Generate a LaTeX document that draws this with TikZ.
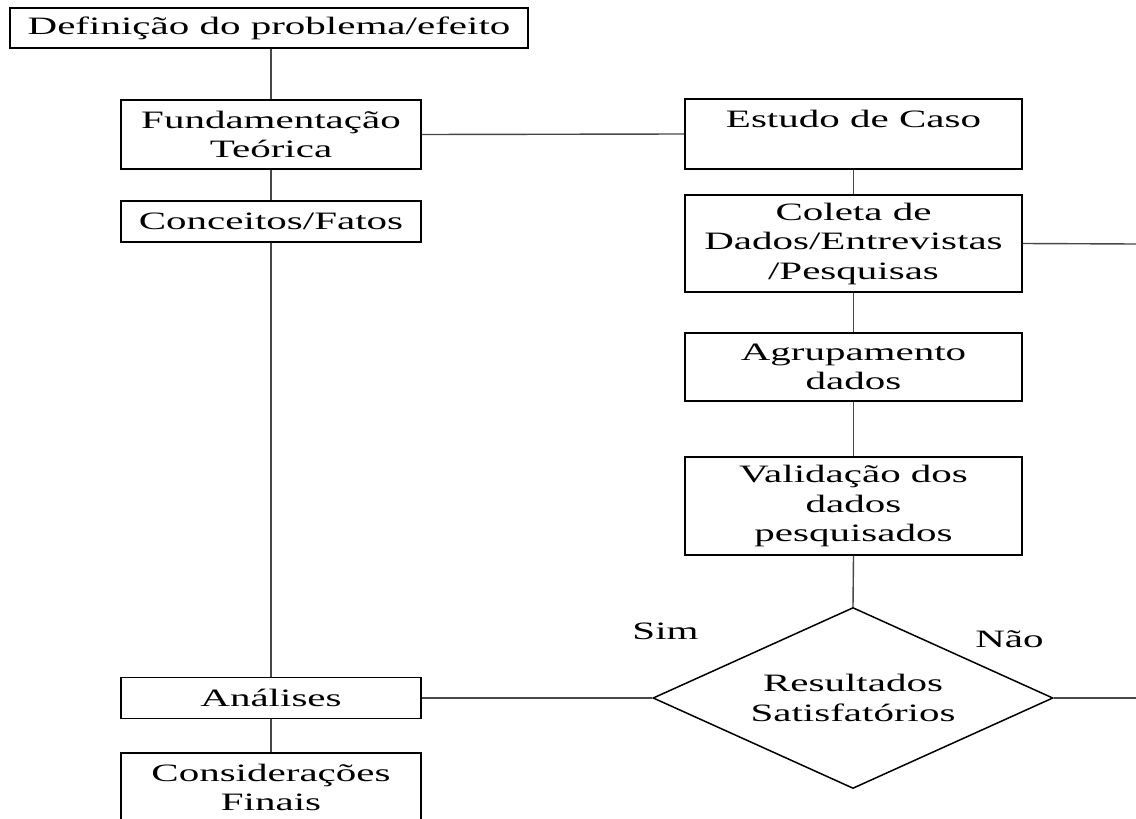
\documentclass[tikz,border=0pt]{standalone}
\usepackage{fontspec}
\setmainfont{Liberation Serif}[FakeStretch=1.64]
\usetikzlibrary{shapes.geometric}
\begin{document}
\begin{tikzpicture}[x=1pt,y=-1pt,
  every node/.style={font=\fontsize{25}{29.5}\selectfont, inner sep=0pt, align=center},
  stepbox/.style={draw=black, line width=1.8pt, fill=white},
  conn/.style={draw=black!72, line width=1.4pt},
  decisionbox/.style={draw=black, line width=1.5pt, diamond, aspect=2.21,
                      minimum width=400pt, minimum height=181pt}]
\path[use as bounding box, clip] (0,0) rectangle (1136,819);
\fill[white] (0,0) rectangle (1136,819);

\coordinate (colR) at (1136,244);
\coordinate (diaR) at (1136,698);

\node[stepbox, minimum width=518pt, minimum height=40pt] (def) at (269,28) {Definição do problema/efeito};
\node[stepbox, minimum width=300pt, minimum height=69pt] (fund) at (271,134.5) {Fundamentação\\Teórica};
\node[stepbox, minimum width=300pt, minimum height=41pt] (conc) at (271,221.5) {Conceitos/Fatos};
\node[stepbox, minimum width=300pt, minimum height=41pt] (anal) at (271,698) {Análises};
\node[stepbox, minimum width=300pt, minimum height=98pt, anchor=north] (cons) at (271,752) {Considerações\\Finais\\~};

\node[stepbox, minimum width=337pt, minimum height=70pt] (est) at (853.5,134) {Estudo de Caso\\~};
\node[stepbox, minimum width=337pt, minimum height=97pt] (col) at (853.5,243.5) {Coleta de\\Dados/Entrevistas\\/Pesquisas};
\node[stepbox, minimum width=337pt, minimum height=68pt] (agr) at (853.5,367) {Agrupamento\\dados};
\node[stepbox, minimum width=337pt, minimum height=98pt] (val) at (853.5,506) {Validação dos\\dados\\pesquisados};
\node[decisionbox] (dia) at (853,698) {Resultados\\Satisfatórios};

\node (sim) at (665.5,631) {Sim};
\node (nao) at (1009.5,639.5) {Não};

\draw[conn] (def.south -| fund.north) -- (fund.north);
\draw[conn] (fund.east) -- (est.west);
\draw[conn] (fund.south) -- (conc.north);
\draw[conn] (conc.south) -- (anal.north);
\draw[conn] (anal.south) -- (cons.north);
\draw[conn] (anal.east) -- (dia.west);
\draw[conn] (est.south) -- (col.north);
\draw[conn] (col.east) -- (colR);
\draw[conn] (col.south) -- (agr.north);
\draw[conn] (agr.south) -- (val.north);
\draw[conn] (val.south) -- (dia.north);
\draw[conn] (dia.east) -- (diaR);
\end{tikzpicture}
\end{document}
